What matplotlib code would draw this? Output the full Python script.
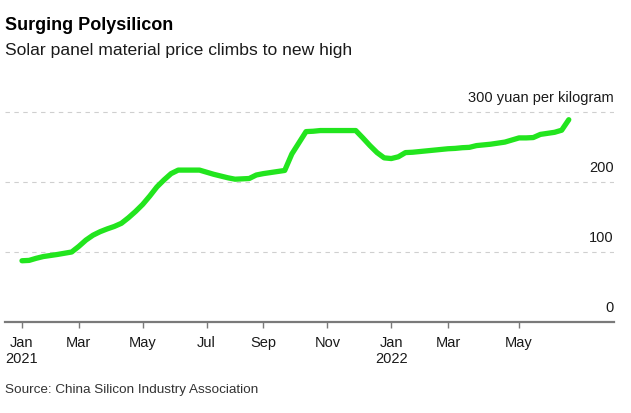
import matplotlib
matplotlib.use("Agg")
import matplotlib.pyplot as plt
import pandas as pd

FONT = "Liberation Sans"
LINE_COLOR = "#22e51e"
AXIS_COLOR = "#7a7a7a"
GRID_COLOR = "#cfcfcf"
TEXT_COLOR = "#1a1a1a"

# weekly polysilicon price (Wednesdays), yuan per kilogram
dates = [
    "2021-01-06", "2021-01-13", "2021-01-20", "2021-01-27", "2021-02-03",
    "2021-02-10", "2021-02-24", "2021-03-03", "2021-03-10", "2021-03-17",
    "2021-03-24", "2021-03-31", "2021-04-07", "2021-04-14", "2021-04-21",
    "2021-04-28", "2021-05-05", "2021-05-12", "2021-05-19", "2021-05-26",
    "2021-06-02", "2021-06-09", "2021-06-16", "2021-06-23", "2021-06-30",
    "2021-07-07", "2021-07-14", "2021-07-21", "2021-07-28", "2021-08-04",
    "2021-08-11", "2021-08-18", "2021-08-25", "2021-09-01", "2021-09-08",
    "2021-09-15", "2021-09-22", "2021-09-29", "2021-10-13", "2021-10-20",
    "2021-10-27", "2021-11-03", "2021-11-10", "2021-11-17", "2021-11-24",
    "2021-12-01", "2021-12-08", "2021-12-15", "2021-12-22", "2021-12-29",
    "2022-01-05", "2022-01-12", "2022-01-19", "2022-01-26", "2022-02-09",
    "2022-02-16", "2022-02-23", "2022-03-02", "2022-03-09", "2022-03-16",
    "2022-03-23", "2022-03-30", "2022-04-06", "2022-04-13", "2022-04-20",
    "2022-04-27", "2022-05-11", "2022-05-18", "2022-05-25", "2022-06-01",
    "2022-06-08", "2022-06-15", "2022-06-22", "2022-06-29",
]
prices = [
    87.5, 88, 91, 93.5, 95,
    96.5, 100, 108, 117, 124,
    129, 133, 136.5, 141, 149,
    158, 168, 180, 193, 203,
    212, 217, 217, 217, 217,
    214, 211, 208.5, 206, 204,
    204.5, 205, 210, 212, 213.5,
    215, 216.5, 240, 272, 272.5,
    273.5, 273.5, 273.5, 273.5, 273.5,
    273.5, 263, 252, 242, 234.5,
    233.5, 236, 242, 242.5, 244.5,
    245.5, 246.5, 247.5, 248, 249,
    249.5, 252, 253, 254, 255.5,
    257, 263, 263, 263.5, 268,
    269.5, 271, 274, 289,
]

# ticks sit on the first reading of each labelled month
tick_dates = ["2021-01-06", "2021-03-03", "2021-05-05", "2021-07-07", "2021-09-01",
              "2021-11-03", "2022-01-05", "2022-03-02", "2022-05-11"]
tick_labels = ["Jan\n2021", "Mar", "May", "Jul", "Sep", "Nov", "Jan\n2022", "Mar", "May"]

grid_values = [100, 200, 300]
value_labels = ["0", "100", "200", "300 yuan per kilogram"]
value_label_pos = [0, 100, 200, 300]

fig = plt.figure(figsize=(6.31, 4.13), dpi=100)
ax = fig.add_axes([5 / 631, 91 / 413, 609 / 631, 217 / 413])

x = pd.to_datetime(dates)
ax.plot(x, prices, color=LINE_COLOR, linewidth=3.8,
        solid_capstyle="round", solid_joinstyle="round", zorder=3)

for v in grid_values:
    ax.axhline(v, color=GRID_COLOR, linewidth=0.8, linestyle=(0, (4, 4)), zorder=1)

ax.set_ylim(0, 310)
ax.set_xlim(pd.Timestamp("2020-12-20 06:00"), pd.Timestamp("2022-08-12 14:00"))

ax.set_xticks(pd.to_datetime(tick_dates))
ax.set_xticklabels(tick_labels, fontfamily=FONT, fontsize=10.5, color=TEXT_COLOR,
                   linespacing=1.2)
ax.tick_params(axis="x", direction="out", length=4, width=1, color=AXIS_COLOR, pad=6)
ax.set_yticks([])

for side in ["top", "right", "left"]:
    ax.spines[side].set_visible(False)
ax.spines["bottom"].set_color(AXIS_COLOR)
ax.spines["bottom"].set_linewidth(1.6)

for lab, v in zip(value_labels, value_label_pos):
    ax.annotate(lab, xy=(1, v), xycoords=("axes fraction", "data"),
                xytext=(0, 7.2), textcoords="offset points",
                ha="right", va="baseline", fontfamily=FONT, fontsize=10.5,
                color=TEXT_COLOR)

fig.text(5 / 631, 1 - 30 / 413, "Surging Polysilicon", fontfamily=FONT,
         fontweight="bold", fontsize=13, color="black", va="baseline")
fig.text(5 / 631, 1 - 55 / 413, "Solar panel material price climbs to new high",
         fontfamily=FONT, fontsize=12.6, color=TEXT_COLOR, va="baseline")
fig.text(5 / 631, 1 - 393 / 413, "Source: China Silicon Industry Association",
         fontfamily=FONT, fontsize=9.7, color="#333333", va="baseline")

fig.savefig("out.png", dpi=100, facecolor="white")
